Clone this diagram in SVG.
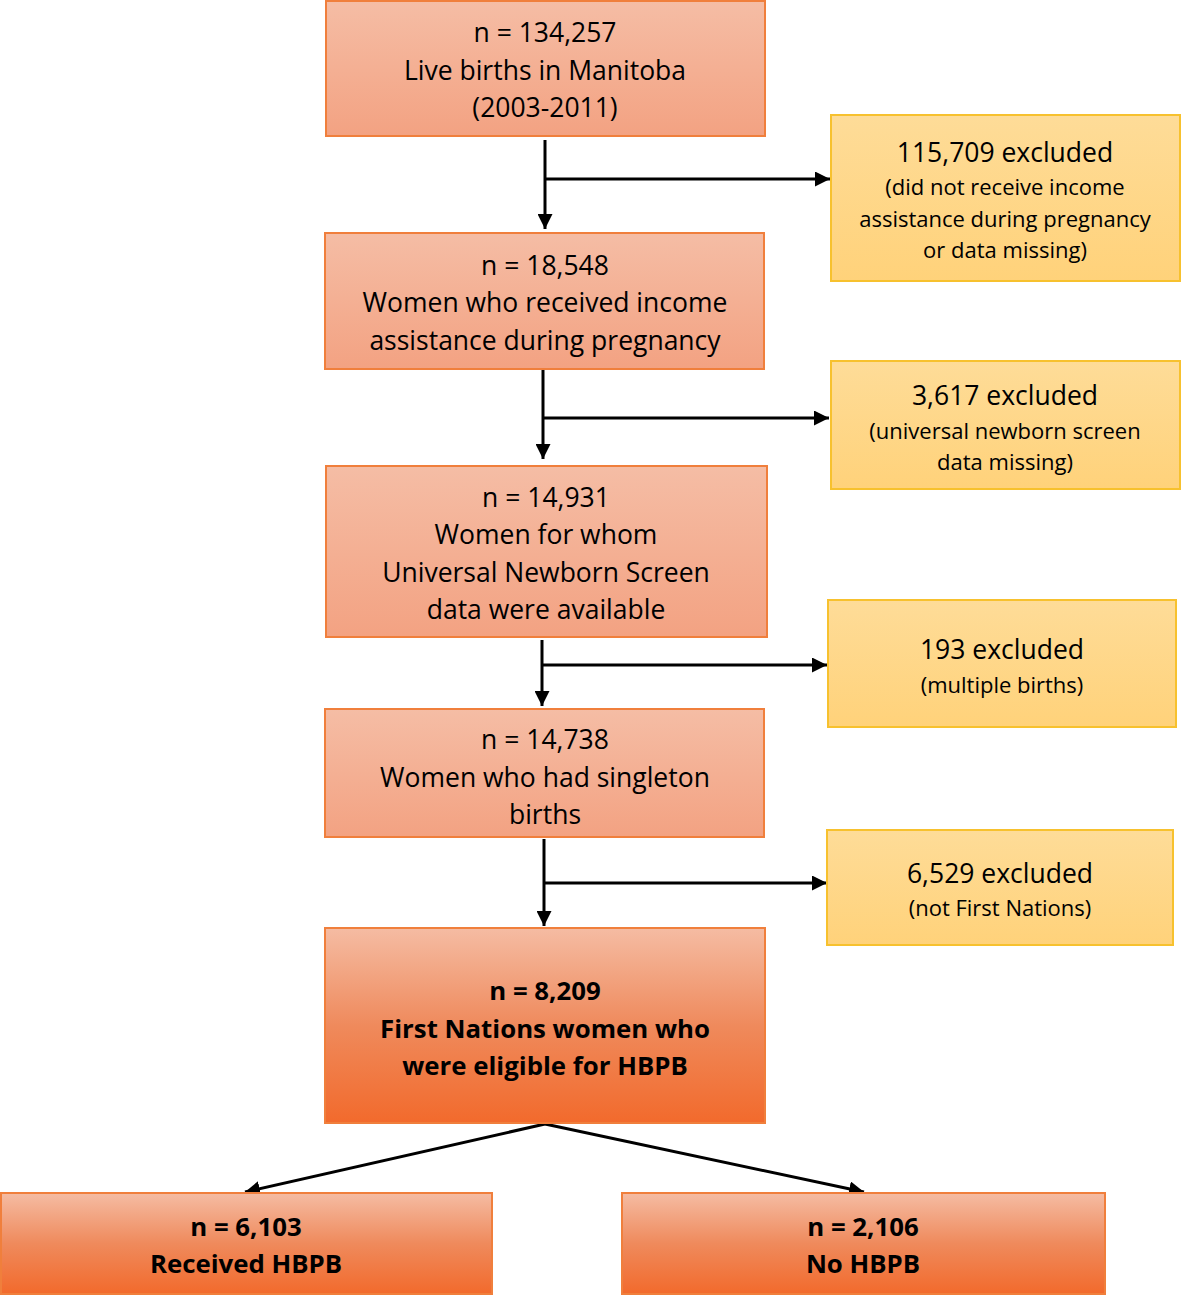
<svg xmlns="http://www.w3.org/2000/svg" width="1181" height="1296" viewBox="0 0 1181 1296">
<defs>
<linearGradient id="gLight" x1="0" y1="0" x2="0" y2="1">
<stop offset="0" stop-color="#F5BDA5"/>
<stop offset="1" stop-color="#F3A282"/>
</linearGradient>
<linearGradient id="gDark" x1="0" y1="0" x2="0" y2="1">
<stop offset="0" stop-color="#F5BCA3"/>
<stop offset="0.5" stop-color="#EF8A5C"/>
<stop offset="1" stop-color="#F26A2C"/>
</linearGradient>
<linearGradient id="gYellow" x1="0" y1="0" x2="0" y2="1">
<stop offset="0" stop-color="#FEDC98"/>
<stop offset="1" stop-color="#FFD27A"/>
</linearGradient>
<marker id="arr" viewBox="0 0 10 10" refX="10" refY="5" markerWidth="5" markerHeight="5" orient="auto" markerUnits="strokeWidth">
<path d="M0,0 L10,5 L0,10 z" fill="#000"/>
</marker>
<style>
.lb{fill:url(#gLight);stroke:#F07F3C;stroke-width:2}
.db{fill:url(#gDark);stroke:#F07F3C;stroke-width:2}
.yb{fill:url(#gYellow);stroke:#F7C12E;stroke-width:2}
text{font-family:"Open Sans","Liberation Sans",Arial,sans-serif;fill:#000;text-anchor:middle;dominant-baseline:central}
.t{font-size:26.5px}
.s{font-size:22px}
.b{font-size:25.8px;font-weight:bold}
.c{stroke:#000;stroke-width:3;fill:none}
</style>
</defs>
<g id="connectors">
<line class="c" x1="545" y1="140" x2="545" y2="229" marker-end="url(#arr)"/>
<line class="c" x1="545" y1="179" x2="830" y2="179" marker-end="url(#arr)"/>
<line class="c" x1="543" y1="370" x2="543" y2="459" marker-end="url(#arr)"/>
<line class="c" x1="543" y1="418" x2="829" y2="418" marker-end="url(#arr)"/>
<line class="c" x1="542" y1="640" x2="542" y2="706" marker-end="url(#arr)"/>
<line class="c" x1="542" y1="665" x2="827" y2="665" marker-end="url(#arr)"/>
<line class="c" x1="544" y1="839" x2="544" y2="926" marker-end="url(#arr)"/>
<line class="c" x1="544" y1="883" x2="827" y2="883" marker-end="url(#arr)"/>
<line class="c" x1="545" y1="1124" x2="245" y2="1192" marker-end="url(#arr)"/>
<line class="c" x1="545" y1="1124" x2="864" y2="1192" marker-end="url(#arr)"/>
</g>
<g id="n1">
<rect class="lb" x="326" y="1" width="439" height="135"/>
<text class="t" x="545" y="32">n = 134,257</text>
<text class="t" x="545" y="70">Live births in Manitoba</text>
<text class="t" x="545" y="107">(2003-2011)</text>
</g>
<g id="e1">
<rect class="yb" x="831" y="115" width="349" height="166"/>
<text class="t" x="1005" y="152">115,709 excluded</text>
<text class="s" x="1005" y="186">(did not receive income</text>
<text class="s" x="1005" y="218">assistance during pregnancy</text>
<text class="s" x="1005" y="249">or data missing)</text>
</g>
<g id="n2">
<rect class="lb" x="325" y="233" width="439" height="136"/>
<text class="t" x="545" y="265">n = 18,548</text>
<text class="t" x="545" y="302">Women who received income</text>
<text class="t" x="545" y="340">assistance during pregnancy</text>
</g>
<g id="e2">
<rect class="yb" x="831" y="361" width="349" height="128"/>
<text class="t" x="1005" y="395">3,617 excluded</text>
<text class="s" x="1005" y="430">(universal newborn screen</text>
<text class="s" x="1005" y="461">data missing)</text>
</g>
<g id="n3">
<rect class="lb" x="326" y="466" width="441" height="171"/>
<text class="t" x="546" y="497">n = 14,931</text>
<text class="t" x="546" y="534">Women for whom</text>
<text class="t" x="546" y="572">Universal Newborn Screen</text>
<text class="t" x="546" y="609">data were available</text>
</g>
<g id="e3">
<rect class="yb" x="828" y="600" width="348" height="127"/>
<text class="t" x="1002" y="649">193 excluded</text>
<text class="s" x="1002" y="684">(multiple births)</text>
</g>
<g id="n4">
<rect class="lb" x="325" y="709" width="439" height="128"/>
<text class="t" x="545" y="739">n = 14,738</text>
<text class="t" x="545" y="777">Women who had singleton</text>
<text class="t" x="545" y="814">births</text>
</g>
<g id="e4">
<rect class="yb" x="827" y="830" width="346" height="115"/>
<text class="t" x="1000" y="873">6,529 excluded</text>
<text class="s" x="1000" y="907">(not First Nations)</text>
</g>
<g id="n5">
<rect class="db" x="325" y="928" width="440" height="195"/>
<text class="b" x="545" y="990">n = 8,209</text>
<text class="b" x="545" y="1028">First Nations women who</text>
<text class="b" x="545" y="1065">were eligible for HBPB</text>
</g>
<g id="n6">
<rect class="db" x="1" y="1193" width="491" height="101"/>
<text class="b" x="246" y="1226">n = 6,103</text>
<text class="b" x="246" y="1263">Received HBPB</text>
</g>
<g id="n7">
<rect class="db" x="622" y="1193" width="483" height="101"/>
<text class="b" x="863" y="1226">n = 2,106</text>
<text class="b" x="863" y="1263">No HBPB</text>
</g>
</svg>
